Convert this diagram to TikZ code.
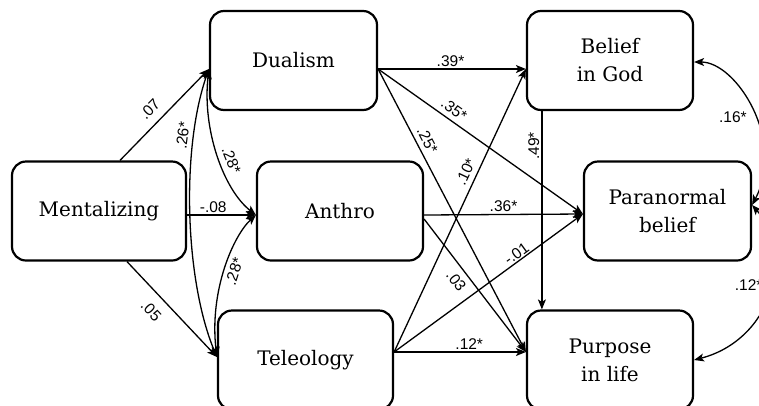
\documentclass[tikz,border=0pt]{standalone}
\usepackage{fontspec}
\setmainfont{DejaVu Serif}
\newfontfamily\coeffont{Liberation Sans}
\usetikzlibrary{arrows.meta}

\tikzset{
  construct/.style={draw, line width=2.2pt, rounded corners=14pt,
    minimum width=#1, minimum height=99pt, inner sep=0pt, align=center,
    font=\fontsize{20}{28}\selectfont},
  construct/.default=166pt,
  effect/.style={line width=1.3pt,
    -{Stealth[length=10pt,width=8pt,inset=2.5pt]}},
  covary/.style={line width=1.3pt,
    {Stealth[length=10pt,width=8pt,inset=2.5pt]}-{Stealth[length=10pt,width=8pt,inset=2.5pt]}},
  coef/.style={font=\coeffont\fontsize{15.5}{15.5}\selectfont, inner sep=2pt},
}

\begin{document}
\begin{tikzpicture}[x=1pt, y=-1pt]
  \useasboundingbox (0,0) rectangle (759,405);
  \clip (0,0) rectangle (759,405);

  % constructs
  \node[construct=167pt] (dual) at (293.5,60.5) {Dualism};
  \node[construct=166pt] (god)  at (610,60.5)   {Belief\\in God};
  \node[construct=174pt] (ment) at (99,211)     {Mentalizing};
  \node[construct=166pt] (anth) at (340,211)    {Anthro};
  \node[construct=167pt] (para) at (667.5,211)  {Paranormal\\belief};
  \node[construct=175pt] (tele) at (305.5,360)  {Teleology};
  \node[construct=166pt] (purp) at (610,360)    {Purpose\\in life};

  % attachment points on the box borders
  \coordinate (dualW) at ([yshift=-8.5pt]dual.west);
  \coordinate (dualE) at ([yshift=-8.5pt]dual.east);
  \coordinate (godW)  at ([yshift=-8.5pt]god.west);
  \coordinate (godE)  at ([yshift=-1.5pt]god.east);
  \coordinate (godS)  at ([xshift=16pt]god.south west);
  \coordinate (mentN) at ([xshift=21pt]ment.north);
  \coordinate (mentE) at ([yshift=-4pt]ment.east);
  \coordinate (mentS) at ([xshift=28pt]ment.south);
  \coordinate (anthW) at ([yshift=-4pt]anth.west);
  \coordinate (anthE) at ([yshift=-4pt]anth.east);
  \coordinate (anthE2) at ([yshift=-8pt]anth.east);
  \coordinate (paraW) at ([yshift=-3pt]para.west);
  \coordinate (paraE) at ([yshift=6pt]para.east);
  \coordinate (teleW) at ([yshift=3pt]tele.west);
  \coordinate (teleE) at ([yshift=8pt]tele.east);
  \coordinate (purpW) at ([yshift=8pt]purp.west);
  \coordinate (purpN) at ([xshift=16pt]purp.north west);
  \coordinate (purpE) at (purp.east);

  % paths from mentalizing
  \draw[effect] (mentN) -- (dualW) node[coef, sloped, above=6pt, pos=.45] {.07};
  \draw[effect] (mentE) -- (anthW) node[coef, above, pos=.38] {-.08};
  \draw[effect] (mentS) -- (teleW) node[coef, sloped, below=8pt, pos=.40] {.05};

  % covariances among the mediators
  \draw[covary] (dualW) .. controls +(-28,80) and +(-32,-77) .. (teleW)
    node[coef, sloped, above=3pt, pos=.25] {.26*};
  \draw[covary] (dualW) .. controls +(-7,61) and +(-32,-25) .. (anthW)
    node[coef, sloped, above=3pt, pos=.56] {.28*};
  \draw[covary] (anthW) .. controls +(-22,20) and +(-8,-67) .. (teleW)
    node[coef, sloped, below=1.5pt, pos=.5] {.28*};

  % paths to the outcomes
  \draw[effect] (dualE) -- (godW) node[coef, above, pos=.49] {.39*};
  \draw[effect] (dualE) -- (paraW) node[coef, sloped, above=3pt, pos=.34] {.35*};
  \draw[effect] (dualE) -- (purpW) node[coef, sloped, above=2.5pt, pos=.27] {.25*};
  \draw[effect] (anthE) -- (paraW) node[coef, above, pos=.5] {.36*};
  \draw[effect] (anthE2) -- (purpW) node[coef, sloped, below=4pt, pos=.41] {.03};
  \draw[effect] (teleE) -- (godW) node[coef, sloped, above=3pt, pos=.62] {.10*};
  \draw[effect] (teleE) -- (paraW) node[coef, sloped, above=-1pt, pos=.67] {-.01};
  \draw[effect] (teleE) -- (purpW) node[coef, above, pos=.57] {.12*};
  \draw[effect] (godS) -- (purpN) node[coef, pos=.175, rotate=90, anchor=south] {.49*};

  % covariances among the outcomes
  \draw[covary] (godE) .. controls +(42,0) and +(34,-65) .. (paraE)
    node[coef, pos=.55, left=6pt] {.16*};
  \draw[covary] (paraE) .. controls +(44,50) and +(77,-20) .. (purpE)
    node[coef, pos=.45, left=6pt] {.12*};
\end{tikzpicture}
\end{document}
